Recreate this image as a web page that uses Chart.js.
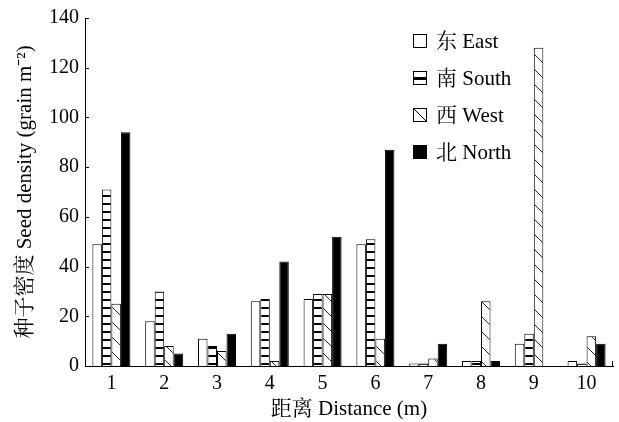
<!DOCTYPE html>
<html>
<head>
<meta charset="utf-8">
<script src="https://cdn.jsdelivr.net/npm/chart.js@4"></script>
<style>
  html, body { margin: 0; padding: 0; background: #fff; }
  #wrap { width: 619px; height: 422px; }
</style>
</head>
<body>
<div id="wrap"><canvas id="seedChart" width="619" height="422"></canvas></div>
<script>
// distances (m)
const distances = ["1", "2", "3", "4", "5", "6", "7", "8", "9", "10"];
// seed density per direction (grain m-2)
const eastValues  = [49, 18, 11, 26, 27, 49, 1, 2, 9, 2];
const southValues = [71, 30, 8, 27, 29, 51, 1, 2, 13, 1];
const westValues  = [25, 8, 6, 2, 29, 11, 3, 26, 128, 12];
const northValues = [94, 5, 13, 42, 52, 87, 9, 2, 0, 9];
const seriesLabels = ["东 East", "南 South", "西 West", "北 North"];
const yTicks = [0, 20, 40, 60, 80, 100, 120, 140];

const serif = "'Liberation Serif', 'Times New Roman', 'Noto Serif CJK SC', 'Noto Sans CJK SC', serif";
const ctx = document.getElementById("seedChart").getContext("2d");

// horizontal stripes for South
function stripePattern() {
    const c = document.createElement("canvas");
    c.width = 8; c.height = 8;
    const g = c.getContext("2d");
    g.fillStyle = "#fff";
    g.fillRect(0, 0, 8, 8);
    g.fillStyle = "#000";
    g.fillRect(0, 3, 8, 2);
    return ctx.createPattern(c, "repeat");
}

// "\" hatching for West
function diagPattern() {
    const s = 15;
    const c = document.createElement("canvas");
    c.width = s; c.height = s;
    const g = c.getContext("2d");
    g.fillStyle = "#fff";
    g.fillRect(0, 0, s, s);
    g.strokeStyle = "#222";
    g.lineWidth = 1;
    g.beginPath();
    g.moveTo(-1, -1); g.lineTo(s + 1, s + 1);
    g.moveTo(-1, s - 1); g.lineTo(1, s + 1);
    g.moveTo(s - 1, -1); g.lineTo(s + 1, 1);
    g.stroke();
    return ctx.createPattern(c, "repeat");
}

const swatchTypes = ["empty", "stripe", "diag", "solid"];

// inward ticks on the y axis, small end tick on the x axis
const axisTicks = {
    id: "axisTicks",
    afterDraw(chart) {
        const y = chart.scales.y;
        const x = chart.scales.x;
        const c = chart.ctx;
        c.save();
        c.strokeStyle = "#000";
        c.lineWidth = 1;
        c.beginPath();
        yTicks.forEach(v => {
            const py = Math.round(y.getPixelForValue(v)) + 0.5;
            c.moveTo(x.left, py);
            c.lineTo(x.left + 4, py);
        });
        const ex = Math.round(x.right) - 0.5;
        c.moveTo(ex, y.bottom);
        c.lineTo(ex, y.bottom - 5);
        c.stroke();
        c.restore();
    }
};

// legend inside the plot, top right
const insideLegend = {
    id: "insideLegend",
    afterDraw(chart) {
        const c = chart.ctx;
        const x0 = 413, y0 = 41, step = 37, sz = 14;
        c.save();
        c.font = "21px " + serif;
        c.textBaseline = "middle";
        chart.data.datasets.forEach((ds, i) => {
            const cy = y0 + i * step;
            const top = cy - sz / 2;
            c.fillStyle = "#fff";
            c.fillRect(x0, top, sz, sz);
            c.strokeStyle = "#000";
            c.lineWidth = 1;
            const t = swatchTypes[i];
            if (t === "solid") {
                c.fillStyle = "#000";
                c.fillRect(x0, top, sz, sz);
            } else if (t === "stripe") {
                c.fillStyle = "#000";
                c.fillRect(x0, cy - 1, sz, 3);
            } else if (t === "diag") {
                c.beginPath();
                c.moveTo(x0, top);
                c.lineTo(x0 + sz, top + sz);
                c.stroke();
            }
            c.strokeRect(x0 + 0.5, top + 0.5, sz - 1, sz - 1);
            c.fillStyle = "#000";
            c.fillText(ds.label, x0 + 23, cy + 1);
        });
        c.restore();
    }
};

const fills = ["#fff", stripePattern(), diagPattern(), "#000"];
const valueSets = [eastValues, southValues, westValues, northValues];

new Chart(ctx, {
    type: "bar",
    data: {
        labels: distances,
        datasets: valueSets.map((vals, i) => ({
            label: seriesLabels[i],
            data: vals,
            backgroundColor: fills[i],
            borderColor: "#000",
            borderWidth: 1,
            borderSkipped: "bottom",
            barPercentage: 1.0,
            categoryPercentage: 0.72
        }))
    },
    options: {
        responsive: false,
        animation: false,
        layout: { padding: { top: 17, right: 6, left: 0, bottom: 0 } },
        plugins: {
            legend: { display: false },
            tooltip: { enabled: false }
        },
        scales: {
            x: {
                grid: { display: false, drawTicks: false },
                border: { color: "#000", width: 1 },
                ticks: { color: "#000", font: { family: serif, size: 20 }, padding: 6 },
                title: {
                    display: true,
                    text: "距离 Distance (m)",
                    color: "#000",
                    font: { family: serif, size: 21 },
                    padding: { top: 0, bottom: 0 }
                },
                afterFit(scale) { scale.height = 56; }
            },
            y: {
                min: 0,
                max: 140,
                grid: { display: false, drawTicks: false },
                border: { color: "#000", width: 1 },
                ticks: {
                    stepSize: 20,
                    color: "#000",
                    font: { family: serif, size: 20 },
                    padding: 6
                },
                title: {
                    display: true,
                    text: "种子密度 Seed density (grain m⁻²)",
                    color: "#000",
                    font: { family: serif, size: 21 },
                    padding: { top: 13, bottom: 0 }
                },
                afterFit(scale) { scale.width = 85; }
            }
        }
    },
    plugins: [axisTicks, insideLegend]
});
</script>
</body>
</html>
